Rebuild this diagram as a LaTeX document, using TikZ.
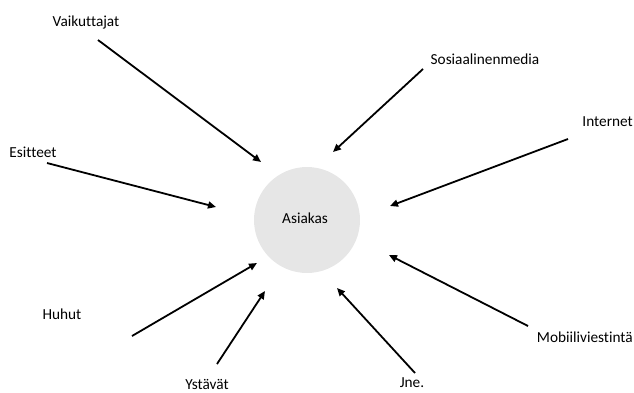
\documentclass[tikz,border=0pt]{standalone}
\usepackage{fontspec}
\setmainfont{Carlito}[Ligatures=NoCommon]
\usetikzlibrary{arrows.meta}
\definecolor{circfill}{HTML}{E6E6E6}
\tikzset{
  lbl/.style={font=\fontsize{15.3}{17}\selectfont, inner sep=0pt, anchor=center},
  conn/.style={line width=1.8pt, -{Triangle[length=8pt,width=7pt]}, shorten >=0pt},
}
\begin{document}
\begin{tikzpicture}[x=1pt,y=-1pt]
\useasboundingbox (0,0) rectangle (634,392);
\node[circle, fill=circfill, minimum size=106pt, inner sep=0pt] (c) at (307,220) {};
\node[lbl] (asiakas) at (305,218) {Asiakas};
\node[lbl] (vai) at (86,22) {Vaikuttajat};
\node[lbl] (sos) at (485,59) {Sosiaalinenmedia};
\node[lbl, anchor=east] (int) at (633,122) {Internet};
\node[lbl] (esi) at (33,152) {Esitteet};
\node[lbl] (huh) at (62,314) {Huhut};
\node[lbl] (yst) at (207,384) {Ystävät};
\node[lbl] (jne) at (412,383) {Jne.};
\node[lbl, anchor=east] (mob) at (633,337) {Mobiiliviestintä};
\coordinate (vaiS) at (98,40);  \coordinate (vaiE) at (261,162);
\coordinate (esiS) at (47,163); \coordinate (esiE) at (216,207);
\coordinate (sosS) at (423,69); \coordinate (sosE) at (333,152);
\coordinate (intS) at (568,139);\coordinate (intE) at (390,206);
\coordinate (huhS) at (132,336);\coordinate (huhE) at (257,263);
\coordinate (ystS) at (217,364);\coordinate (ystE) at (265,291);
\coordinate (jneS) at (415,373);\coordinate (jneE) at (337,288);
\coordinate (mobS) at (528,326);\coordinate (mobE) at (389,255);
\draw[conn] (vaiS) -- (vaiE);
\draw[conn] (esiS) -- (esiE);
\draw[conn] (sosS) -- (sosE);
\draw[conn] (intS) -- (intE);
\draw[conn] (huhS) -- (huhE);
\draw[conn] (ystS) -- (ystE);
\draw[conn] (jneS) -- (jneE);
\draw[conn] (mobS) -- (mobE);
\end{tikzpicture}
\end{document}
